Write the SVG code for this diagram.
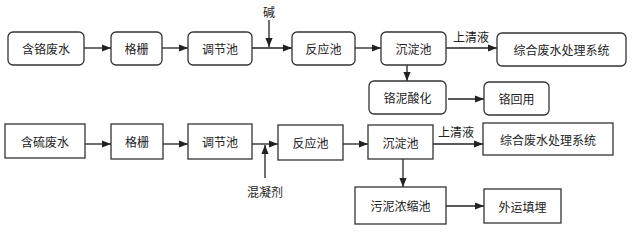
<svg xmlns="http://www.w3.org/2000/svg" width="640" height="238" viewBox="0 0 640 238">
<defs>
<style>
.n{fill:#fff;stroke:#333;stroke-width:1.3}
.t{font-family:"Noto Sans CJK SC","Noto Sans",sans-serif;font-size:12px;fill:#222;text-anchor:middle;dominant-baseline:central}
.c{stroke:#222;stroke-width:1.3;fill:none}
</style>
<marker id="ah" viewBox="0 0 10 10" refX="10" refY="5" markerWidth="9" markerHeight="9" markerUnits="userSpaceOnUse" orient="auto"><path d="M0,1 L10,5 L0,9 Z" fill="#222"/></marker>
</defs>
<rect width="640" height="238" fill="#fff"/>
<g id="connectors">
<line class="c" x1="84" y1="48" x2="111" y2="48" marker-end="url(#ah)"/>
<line class="c" x1="162" y1="48" x2="188" y2="48" marker-end="url(#ah)"/>
<line class="c" x1="252" y1="48" x2="292" y2="48" marker-end="url(#ah)"/>
<line class="c" x1="269" y1="20" x2="269" y2="47" marker-end="url(#ah)"/>
<line class="c" x1="355" y1="48" x2="381" y2="48" marker-end="url(#ah)"/>
<line class="c" x1="446" y1="48" x2="497" y2="48" marker-end="url(#ah)"/>
<line class="c" x1="407" y1="65" x2="407" y2="81" marker-end="url(#ah)"/>
<line class="c" x1="448" y1="99" x2="484" y2="99" marker-end="url(#ah)"/>
<line class="c" x1="85" y1="144" x2="111" y2="144" marker-end="url(#ah)"/>
<line class="c" x1="163" y1="144" x2="188" y2="144" marker-end="url(#ah)"/>
<line class="c" x1="252" y1="144" x2="278" y2="144" marker-end="url(#ah)"/>
<line class="c" x1="265" y1="178" x2="265" y2="145" marker-end="url(#ah)"/>
<line class="c" x1="343" y1="144" x2="368" y2="144" marker-end="url(#ah)"/>
<line class="c" x1="433" y1="144" x2="483" y2="144" marker-end="url(#ah)"/>
<line class="c" x1="403" y1="159" x2="403" y2="187" marker-end="url(#ah)"/>
<line class="c" x1="446" y1="206" x2="484" y2="206" marker-end="url(#ah)"/>
<text class="t" x="269" y="11">碱</text>
<text class="t" x="471" y="36">上清液</text>
<text class="t" x="265" y="191">混凝剂</text>
<text class="t" x="456" y="131">上清液</text>
</g>
<g id="n1"><rect class="n" x="8" y="32" width="76" height="33" rx="5"/><text class="t" x="46" y="48.5">含铬废水</text></g>
<g id="n2"><rect class="n" x="111" y="32" width="51" height="33" rx="5"/><text class="t" x="136.5" y="48.5">格栅</text></g>
<g id="n3"><rect class="n" x="188" y="32" width="64" height="33" rx="5"/><text class="t" x="220" y="48.5">调节池</text></g>
<g id="n4"><rect class="n" x="292" y="32" width="63" height="33" rx="5"/><text class="t" x="323.5" y="48.5">反应池</text></g>
<g id="n5"><rect class="n" x="381" y="32" width="65" height="33" rx="5"/><text class="t" x="413.5" y="48.5">沉淀池</text></g>
<g id="n6"><rect class="n" x="497" y="33" width="129" height="33" rx="5"/><text class="t" x="561.5" y="49.5">综合废水处理系统</text></g>
<g id="n7"><rect class="n" x="369" y="81" width="77" height="33" rx="5"/><text class="t" x="407.5" y="97.5">铬泥酸化</text></g>
<g id="n8"><rect class="n" x="484" y="82" width="65" height="33" rx="5"/><text class="t" x="516.5" y="98.5">铬回用</text></g>
<g id="m1"><rect class="n" x="5" y="124" width="80" height="34"/><text class="t" x="45" y="141">含硫废水</text></g>
<g id="m2"><rect class="n" x="111" y="124" width="52" height="35"/><text class="t" x="137" y="141.5">格栅</text></g>
<g id="m3"><rect class="n" x="188" y="124" width="64" height="35"/><text class="t" x="220" y="141.5">调节池</text></g>
<g id="m4"><rect class="n" x="278" y="125" width="65" height="35"/><text class="t" x="310.5" y="142.5">反应池</text></g>
<g id="m5"><rect class="n" x="368" y="125" width="65" height="34"/><text class="t" x="400.5" y="142">沉淀池</text></g>
<g id="m6"><rect class="n" x="483" y="123" width="130" height="32"/><text class="t" x="548" y="139">综合废水处理系统</text></g>
<g id="m7"><rect class="n" x="355" y="187" width="91" height="37"/><text class="t" x="400.5" y="205.5">污泥浓缩池</text></g>
<g id="m8"><rect class="n" x="484" y="189" width="77" height="34"/><text class="t" x="522.5" y="206">外运填埋</text></g>
</svg>
